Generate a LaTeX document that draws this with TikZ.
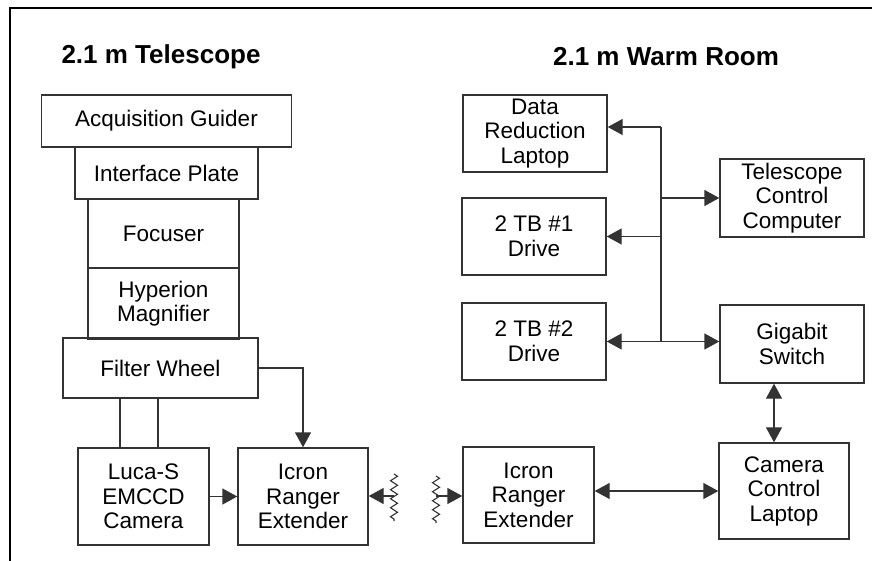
\documentclass[tikz,border=0pt]{standalone}
\usepackage{fontspec}
\setmainfont{Liberation Sans}
\usepackage{tikz}
\usetikzlibrary{arrows.meta, positioning, calc, decorations.pathmorphing}

\begin{document}
\begin{tikzpicture}[
    x=1pt, y=-1pt,
    box/.style={rectangle, draw=black!80, line width=1.4pt, align=center, inner sep=0pt, font=\fontsize{22.5}{24.5}\selectfont},
    title/.style={font=\fontsize{26}{29}\selectfont\bfseries},
    line/.style={draw=black!80, line width=1.4pt},
    arrow/.style={line, -{Triangle[length=15pt,width=16pt]}},
    dblarrow/.style={line, {Triangle[length=15pt,width=16pt]}-{Triangle[length=15pt,width=16pt]}},
    squiggle/.style={draw=black!80, line width=1.1pt, decorate, decoration={zigzag, segment length=9pt, amplitude=3.5pt}}
]
\useasboundingbox (0,0) rectangle (872,561);
\draw[line width=1.8pt] (10,561) -- (10,8) -- (872,8);

\node[title] (tscope) at (161,57) {2.1 m Telescope};
\node[title] (wroom) at (666,57) {2.1 m Warm Room};

\node[box, minimum width=250, minimum height=52] (acq) at (166.5,121) {Acquisition Guider};
\node[box, minimum width=183, minimum height=52] (iface) at (166.5,173) {Interface Plate};
\node[box, minimum width=151, minimum height=69] (focus) at (163.5,233.5) {Focuser};
\node[box, minimum width=151, minimum height=71] (hyper) at (163.5,303.5) {Hyperion\\Magnifier};
\node[box, minimum width=195, minimum height=60] (filter) at (160.5,368) {Filter Wheel};
\node[box, minimum width=131, minimum height=97] (luca) at (143.5,496.5) {Luca-S\\EMCCD\\Camera};
\node[box, minimum width=130, minimum height=97] (icronL) at (303,496.5) {Icron\\Ranger\\Extender};

\node[box, minimum width=131, minimum height=96] (icronR) at (528.5,495) {Icron\\Ranger\\Extender};
\node[box, minimum width=130, minimum height=96] (camctl) at (784,491) {Camera\\Control\\Laptop};
\node[box, minimum width=144, minimum height=78] (gigabit) at (792,344) {Gigabit\\Switch};
\node[box, minimum width=144, minimum height=77] (datared) at (535,133.5) {Data\\Reduction\\Laptop};
\node[box, minimum width=144, minimum height=78] (telctl) at (792,198) {Telescope\\Control\\Computer};
\node[box, minimum width=144, minimum height=77] (drive1) at (534,236.5) {2 TB \#1\\Drive};
\node[box, minimum width=144, minimum height=77] (drive2) at (534,341.5) {2 TB \#2\\Drive};

\coordinate (l1) at ($(luca.north)+(-23.5,0)$);
\coordinate (l2) at ($(luca.north)+(14.5,0)$);
\draw[line] (l1) -- (l1 |- filter.south);
\draw[line] (l2) -- (l2 |- filter.south);
\draw[arrow] (filter.east) -| (icronL.north);
\draw[arrow] (luca) -- (icronL);

\coordinate (sqL) at (394,496);
\coordinate (sqR) at (436,496);
\draw[squiggle] (394,474) -- (394,521);
\draw[squiggle] (436,476) -- (436,523);
\draw[arrow] (sqL) -- (sqL -| icronL.east);
\draw[arrow] (sqR) -- (sqR -| icronR.west);

\draw[dblarrow] (camctl.west -| icronR.east) -- (camctl.west);
\coordinate (sw) at ($(camctl.north)+(-10,0)$);
\draw[dblarrow] (sw |- gigabit.south) -- (sw);

\coordinate (bt) at (661,127);
\coordinate (bb) at (661,341.5);
\draw[line] (bt) -- (bb);
\draw[arrow] (bt) -- (bt -| datared.east);
\draw[arrow] (bt |- telctl.west) -- (telctl.west);
\draw[arrow] (bt |- drive1.east) -- (drive1.east);
\draw[dblarrow] (drive2.east) -- (drive2.east -| gigabit.west);
\end{tikzpicture}
\end{document}
